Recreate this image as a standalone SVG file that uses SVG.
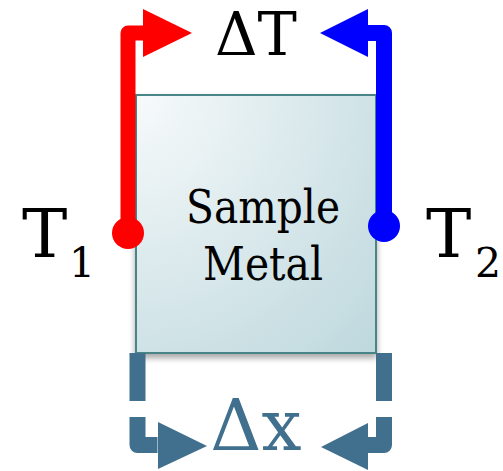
<svg xmlns="http://www.w3.org/2000/svg" width="503" height="471" viewBox="0 0 503 471">
  <style>
    text { font-family: 'DejaVu Serif', 'Liberation Serif', 'Noto Serif', Tinos, serif; }
    .hot { fill: none; stroke: #ff0000; stroke-width: 15; stroke-linejoin: round; }
    .cold { fill: none; stroke: #0000ff; stroke-width: 16; stroke-linejoin: round; }
    .dx { fill: none; stroke: #416f8e; stroke-width: 16; stroke-linejoin: round; stroke-dasharray: 48 16; }
  </style>
  <defs>
    <radialGradient id="metal" cx="0" cy="0" r="1.45" fx="0" fy="0">
      <stop offset="0" stop-color="#f7fafb"/>
      <stop offset="1" stop-color="#bcd7dc"/>
    </radialGradient>
    <filter id="shadow" x="-10%" y="-10%" width="125%" height="125%">
      <feDropShadow dx="0" dy="4" stdDeviation="3" flood-color="#000" flood-opacity="0.35"/>
    </filter>
  </defs>

  <g id="sample">
    <rect x="136" y="95" width="240" height="258" fill="url(#metal)" stroke="#4a8587" stroke-width="2" filter="url(#shadow)"/>
    <text x="186" y="223" font-size="47" textLength="154" lengthAdjust="spacingAndGlyphs">Sample</text>
    <text x="203" y="280" font-size="47" textLength="120" lengthAdjust="spacingAndGlyphs">Metal</text>
  </g>

  <g id="connectors">
    <path class="hot" d="M128,222 V33 H146"/>
    <polygon points="143,9 192,33 143,57" fill="#ff0000"/>
    <circle cx="128" cy="233" r="16" fill="#ff0000"/>

    <path class="cold" d="M384,218 V33 H366"/>
    <polygon points="368,9 320,33 368,57" fill="#0000ff"/>
    <circle cx="384" cy="226" r="16" fill="#0000ff"/>

    <path class="dx" d="M137.5,353 V445 H159"/>
    <polygon points="158,422 207,446 158,469" fill="#416f8e"/>
    <path class="dx" d="M384,353 V445 H367"/>
    <polygon points="368,423 321,447 368,470" fill="#416f8e"/>
  </g>

  <g id="dT">
    <text x="256" y="55" font-size="59" text-anchor="middle">ΔT</text>
  </g>
  <g id="dx-label">
    <text x="256" y="450" font-size="71" text-anchor="middle" fill="#416f8e">Δx</text>
  </g>
  <g id="T1">
    <text x="22" y="257" font-size="68">T</text>
    <text x="69" y="277" font-size="41">1</text>
  </g>
  <g id="T2">
    <text x="426" y="257" font-size="68">T</text>
    <text x="475" y="277" font-size="41">2</text>
  </g>
</svg>
